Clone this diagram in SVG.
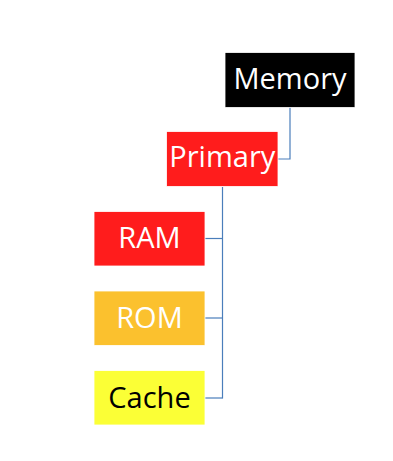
<svg xmlns="http://www.w3.org/2000/svg" width="393" height="461" viewBox="0 0 393 461">
  <style>
    .box { stroke: #ffffff; stroke-width: 0.8; }
    .lbl { font-family: "Open Sans", "Liberation Sans", Arial, sans-serif; font-size: 29px; text-anchor: middle; }
    .light { fill: #ffffff; }
    .dark { fill: #000000; }
    .link { fill: none; stroke: #4a7ebb; stroke-width: 1.2; }
  </style>
  <rect width="393" height="461" fill="#ffffff"/>

  <!-- tree connectors -->
  <g id="connectors">
    <path class="link" d="M290,107 V159 H278"/>
    <path class="link" d="M222.5,187 V398.5"/>
    <path class="link" d="M222.5,238.5 H205"/>
    <path class="link" d="M222.5,318 H205"/>
    <path class="link" d="M222.5,398 H205"/>
  </g>

  <g id="memory">
    <rect class="box" x="225" y="52.5" width="130" height="55" fill="#000000"/>
    <text class="lbl light" x="290" y="89">Memory</text>
  </g>

  <g id="primary">
    <rect class="box" x="166.5" y="131.5" width="111.5" height="55" fill="#ff1c1c"/>
    <text class="lbl light" x="222.3" y="167">Primary</text>
  </g>

  <g id="ram">
    <rect class="box" x="94" y="211.5" width="111" height="54.5" fill="#ff1c1c"/>
    <text class="lbl light" x="149.5" y="248.3">RAM</text>
  </g>

  <g id="rom">
    <rect class="box" x="94" y="291" width="111" height="54.5" fill="#fbc12e"/>
    <text class="lbl light" x="149.5" y="328.3">ROM</text>
  </g>

  <g id="cache">
    <rect class="box" x="94" y="370.5" width="111" height="54.5" fill="#fbff36"/>
    <text class="lbl dark" x="149.5" y="407.7">Cache</text>
  </g>
</svg>
